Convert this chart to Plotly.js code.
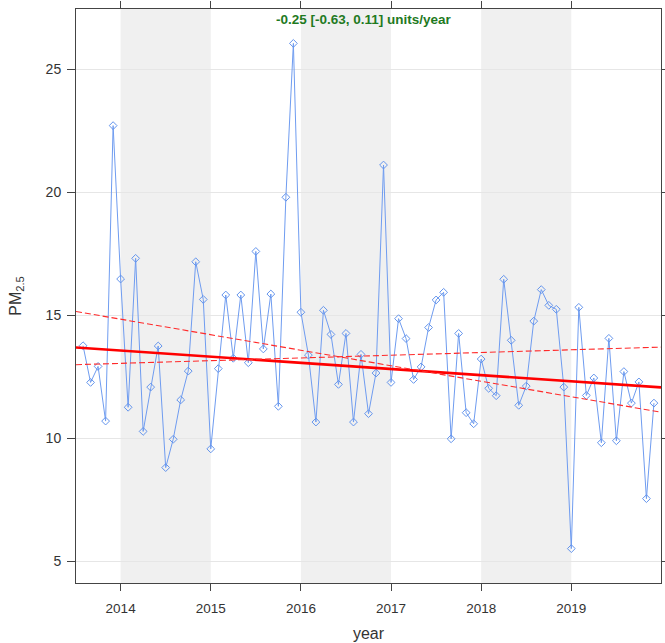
<!DOCTYPE html>
<html>
<head>
<meta charset="utf-8">
<script src="https://cdn.plot.ly/plotly-3.0.1.min.js"></script>
<style>html,body{margin:0;padding:0;background:#fff}#chart{width:665px;height:643px}</style>
</head>
<body>
<div id="chart"></div>
<script>
// Monthly PM2.5 means, Aug 2013 .. Dec 2019
var startYear = 2013, startMonth = 8;
var pm25 = [
  13.76, 12.27, 12.92, 10.70, 22.70,                                   // 2013 Aug-Dec
  16.47, 11.26, 17.31, 10.28, 12.08, 13.75, 8.81, 9.96, 11.56, 12.73, 17.17, 15.64, // 2014
  9.57, 12.83, 15.82, 13.25, 15.82, 13.07, 17.59, 13.63, 15.86, 11.30, 19.79, 26.04, // 2015
  15.12, 13.38, 10.66, 15.20, 14.22, 12.19, 14.26, 10.66, 13.41, 11.00, 12.65, 21.10, // 2016
  12.27, 14.86, 14.05, 12.39, 12.90, 14.50, 15.62, 15.93, 9.98, 14.26, 11.04, 10.59,  // 2017
  13.22, 12.03, 11.73, 16.46, 13.98, 11.34, 12.12, 14.76, 16.04, 15.40, 15.24, 12.08, // 2018
  5.52, 15.32, 11.74, 12.45, 9.82, 14.06, 9.90, 12.71, 11.43, 12.29, 7.55, 11.43      // 2019
];
// Theil-Sen trend: slope [estimate, lower, upper] (units/year), value at x-range start
var trendNames = ['trend', 'lower 95% CI', 'upper 95% CI'];
var trendSlope = [-0.25, -0.63, 0.11];
var trendStartValue = [13.69, 15.15, 12.99];
var yearTicks = [2014, 2015, 2016, 2017, 2018, 2019];
var yTicks = [5, 10, 15, 20, 25];
var shadedYears = [2014, 2016, 2018];
var xRange = [2013.505, 2019.995];
var yRange = [4.123, 27.437];

var xs = [];
for (var i = 0; i < pm25.length; i++) {
  var m = startMonth - 1 + i;
  xs.push(startYear + Math.floor(m / 12) + (m % 12) / 12);
}

var traces = [{
  x: xs, y: pm25, type: 'scatter', mode: 'lines+markers',
  line: {color: '#6f9cf0', width: 1},
  marker: {symbol: 'diamond-open', size: 6, color: '#6495ED', line: {width: 1}},
  hoverinfo: 'x+y', showlegend: false
}];
for (var k = 0; k < trendSlope.length; k++) {
  var tx = [xRange[0], xRange[1]];
  var ty = tx.map(function (t) { return trendStartValue[k] + trendSlope[k] * (t - xRange[0]); });
  traces.push({
    x: tx, y: ty, type: 'scatter', mode: 'lines', name: trendNames[k],
    line: k === 0 ? {color: '#ff0000', width: 2.6} : {color: '#ff2a2a', width: 1.1, dash: '6px,3px'},
    showlegend: false
  });
}

var shapes = shadedYears.map(function (y0) {
  return {type: 'rect', xref: 'x', yref: 'paper', x0: y0, x1: y0 + 1, y0: 0, y1: 1,
          fillcolor: '#f0f0f0', line: {width: 0}, layer: 'below'};
});

var FONT = 'Liberation Sans, Arial, sans-serif';
var layout = {
  width: 665, height: 643,
  margin: {l: 76, r: 4, t: 9, b: 60},
  paper_bgcolor: '#fff', plot_bgcolor: '#fff',
  showlegend: false,
  shapes: shapes,
  xaxis: {
    range: xRange, tickvals: yearTicks, ticktext: yearTicks.map(String),
    showgrid: false, zeroline: false,
    showline: true, linecolor: '#444', linewidth: 1, mirror: 'allticks',
    ticks: 'outside', ticklen: 7, tickcolor: '#444', ticklabelstandoff: 6,
    tickfont: {family: FONT, size: 13.5, color: '#333'},
    title: {text: 'year', font: {family: FONT, size: 16, color: '#333'}, standoff: 12}
  },
  yaxis: {
    range: yRange, tickvals: yTicks, ticktext: yTicks.map(String),
    showgrid: true, gridcolor: '#e6e6e6', gridwidth: 1, zeroline: false,
    showline: true, linecolor: '#444', linewidth: 1, mirror: 'allticks',
    ticks: 'outside', ticklen: 8, tickcolor: '#444', ticklabelstandoff: 3,
    tickfont: {family: FONT, size: 14, color: '#333'},
    title: {text: 'PM<sub>2.5</sub>', font: {family: FONT, size: 16, color: '#333'}, standoff: 20}
  },
  annotations: [{
    xref: 'paper', yref: 'paper', x: 0.493, y: 0.981, xanchor: 'center', yanchor: 'middle',
    text: '<b>' + trendSlope[0].toFixed(2) + ' [' + trendSlope[1].toFixed(2) + ', ' + trendSlope[2].toFixed(2) + '] units/year</b>',
    showarrow: false,
    font: {family: FONT, size: 13.5, color: '#1f7a1f'}
  }]
};

Plotly.newPlot('chart', traces, layout, {displayModeBar: false, staticPlot: true});
</script>
</body>
</html>
